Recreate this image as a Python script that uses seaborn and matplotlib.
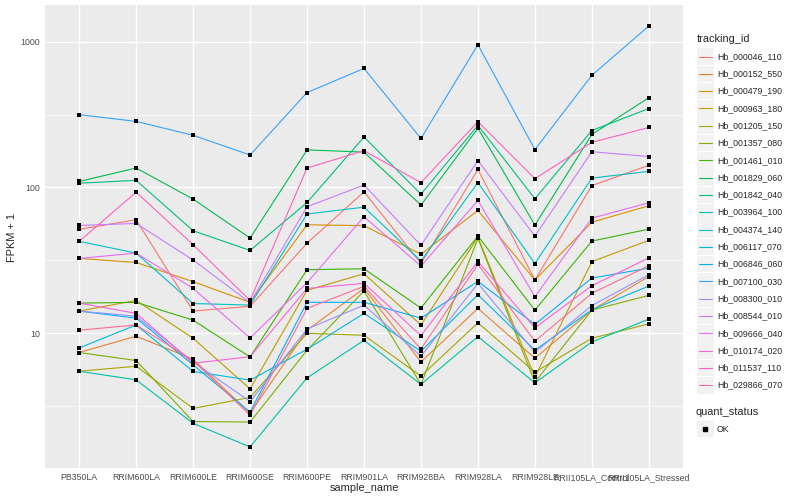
import matplotlib
matplotlib.use("Agg")
import matplotlib.pyplot as plt
from matplotlib.patches import Rectangle
from matplotlib.lines import Line2D
from matplotlib.ticker import NullFormatter
import seaborn as sns
import pandas as pd
import numpy as np

samples = ["PB350LA", "RRIM600LA", "RRIM600LE", "RRIM600SE", "RRIM600PE",
           "RRIM901LA", "RRIM928BA", "RRIM928LA", "RRIM928LE",
           "RRII105LA_Control", "RRII105LA_Stressed"]

tracking_ids = ["Hb_000046_110", "Hb_000152_550", "Hb_000479_190", "Hb_000963_180",
                "Hb_001205_150", "Hb_001357_080", "Hb_001461_010", "Hb_001829_060",
                "Hb_001842_040", "Hb_003964_100", "Hb_004374_140", "Hb_006117_070",
                "Hb_006846_060", "Hb_007100_030", "Hb_008300_010", "Hb_008544_010",
                "Hb_009666_040", "Hb_010174_020", "Hb_011537_110", "Hb_029866_070"]

# FPKM + 1 per gene, in sample order
hb_000046_110 = [51.6, 60.1, 14.2, 15.3, 41.5, 93.4, 30.1, 133, 23.2, 103, 142]
hb_000152_550 = [7.38, 9.54, 6.64, 2.83, 10.5, 20.3, 6.36, 14.8, 6.74, 14.4, 24.5]
hb_000479_190 = [32.6, 30.6, 22.6, 16.3, 55.5, 54.7, 34.9, 69.6, 23.2, 57.8, 74.9]
hb_000963_180 = [14.2, 16.8, 9.24, 4.15, 19.7, 25.6, 11.4, 45.5, 5.00, 31.0, 43.4]
hb_001205_150 = [5.49, 5.94, 3.05, 3.63, 10.0, 9.69, 5.08, 11.8, 5.41, 9.24, 11.6]
hb_001357_080 = [7.38, 6.50, 2.48, 2.46, 7.65, 19.5, 4.46, 44.7, 4.62, 14.4, 18.2]
hb_001461_010 = [16.1, 16.3, 12.3, 6.88, 27.3, 27.7, 14.9, 46.4, 14.4, 42.9, 51.8]
hb_001829_060 = [110, 136, 83.2, 45.0, 181, 175, 75.7, 255, 55.2, 231, 413]
hb_001842_040 = [107, 112, 50.5, 37.0, 78.9, 222, 90.0, 267, 83.7, 246, 348]
hb_003964_100 = [5.49, 4.79, 2.41, 1.66, 4.94, 8.95, 4.46, 9.49, 4.57, 8.72, 12.5]
hb_004374_140 = [42.7, 35.5, 16.0, 15.6, 65.8, 73.3, 31.3, 108, 30.1, 116, 129]
hb_006117_070 = [7.93, 11.4, 5.47, 4.77, 7.77, 13.7, 7.53, 18.4, 7.65, 14.5, 21.1]
hb_006846_060 = [14.2, 12.7, 6.07, 2.88, 16.3, 16.3, 12.7, 22.7, 11.5, 23.9, 28.0]
hb_007100_030 = [316, 284, 228, 167, 448, 656, 217, 953, 182, 588, 1281]
hb_008300_010 = [14.2, 13.1, 6.36, 3.40, 10.7, 15.6, 6.96, 22.0, 7.41, 15.5, 25.2]
hb_008544_010 = [54.9, 56.7, 31.8, 16.2, 73.8, 104, 40.1, 153, 46.4, 176, 163]
hb_009666_040 = [32.6, 35.5, 20.3, 9.29, 22.2, 63.0, 28.9, 81.5, 17.8, 61.6, 78.6]
hb_010174_020 = [16.1, 13.7, 6.23, 6.90, 20.3, 22.0, 9.64, 31.1, 10.9, 21.2, 32.9]
hb_011537_110 = [42.7, 92.9, 40.5, 16.8, 136, 179, 108, 283, 115, 204, 258]
hb_029866_070 = [10.5, 11.4, 6.50, 2.74, 14.8, 21.0, 7.80, 29.7, 8.82, 18.8, 29.1]

series = [hb_000046_110, hb_000152_550, hb_000479_190, hb_000963_180, hb_001205_150,
          hb_001357_080, hb_001461_010, hb_001829_060, hb_001842_040, hb_003964_100,
          hb_004374_140, hb_006117_070, hb_006846_060, hb_007100_030, hb_008300_010,
          hb_008544_010, hb_009666_040, hb_010174_020, hb_011537_110, hb_029866_070]

# ggplot2 default hue palette for 20 levels
gg_colors = ["#F8766D", "#EA8331", "#D89000", "#C09B00", "#A3A500", "#7CAE00",
             "#39B600", "#00BB4E", "#00BF7D", "#00C1A3", "#00BFC4", "#00BAE0",
             "#00B0F6", "#35A2FF", "#9590FF", "#C77CFF", "#E76BF3", "#FA62DB",
             "#FF62BC", "#FF6C91"]

rows = []
for tid, vals in zip(tracking_ids, series):
    for s, v in zip(samples, vals):
        rows.append({"tracking_id": tid, "sample_name": s, "fpkm1": v,
                     "quant_status": "OK"})
df = pd.DataFrame(rows)

sns.set_style("darkgrid", {"axes.facecolor": "#EBEBEB", "grid.color": "white"})
plt.rcParams["font.family"] = ["Liberation Sans", "DejaVu Sans"]

W, H = 800, 500
fig = plt.figure(figsize=(8, 5), dpi=100)
ax = fig.add_axes([45 / W, 1 - 468 / H, (683 - 45) / W, (468 - 5) / H])


def px(x, y):
    return x / W, 1 - y / H


sns.lineplot(data=df, x="sample_name", y="fpkm1", hue="tracking_id",
             hue_order=tracking_ids, palette=gg_colors, estimator=None,
             sort=False, linewidth=0.8, legend=False, ax=ax)
sns.scatterplot(data=df, x="sample_name", y="fpkm1", color="black", marker="s",
                s=9, linewidth=0, legend=False, ax=ax, zorder=3)

ax.set_yscale("log")
lo = np.log10(df.fpkm1.min())
hi = np.log10(df.fpkm1.max())
pad = 0.05 * (hi - lo)
ax.set_ylim(10 ** (lo - pad), 10 ** (hi + pad))
ax.set_xlim(-0.6, len(samples) - 0.4)

ax.set_yticks([10, 100, 1000])
ax.set_yticklabels(["10", "100", "1000"])
ax.set_yticks([10 ** 0.5, 10 ** 1.5, 10 ** 2.5], minor=True)
ax.yaxis.set_minor_formatter(NullFormatter())
ax.grid(which="major", color="white", linewidth=1.0)
ax.grid(which="minor", axis="y", color="white", linewidth=0.5)
ax.tick_params(which="major", length=2, width=0.7, color="#333333",
               labelsize=6.3, labelcolor="#4D4D4D", pad=1.5)
ax.tick_params(which="minor", length=0)
for sp in ax.spines.values():
    sp.set_visible(False)
ax.set_xlabel("")
ax.set_ylabel("")

fig.text(*px(364, 488), "sample_name", fontsize=7.9, ha="center", va="center")
fig.text(*px(12, 237), "FPKM + 1", fontsize=7.9, ha="center", va="center",
         rotation=90)

# legend: tracking_id
fig.text(*px(697, 39), "tracking_id", fontsize=7.9, ha="left", va="center")
for i, (tid, col) in enumerate(zip(tracking_ids, gg_colors)):
    yc = 56.5 + 17.3 * i
    fig.add_artist(Rectangle(px(697, yc + 8.3), 16.6 / W, 16.6 / H,
                             facecolor="#F2F2F2", edgecolor="none",
                             transform=fig.transFigure))
    fig.add_artist(Line2D([698.5 / W, 712 / W], [1 - yc / H] * 2, color=col,
                          linewidth=0.8, transform=fig.transFigure))
    fig.text(*px(717, yc), tid, fontsize=6.3, ha="left", va="center")

# legend: quant_status
fig.text(*px(696, 412), "quant_status", fontsize=7.9, ha="left", va="center")
fig.add_artist(Rectangle(px(697, 437.3), 16.6 / W, 16.6 / H,
                         facecolor="#F2F2F2", edgecolor="none",
                         transform=fig.transFigure))
fig.add_artist(Line2D([705.3 / W], [1 - 429 / H], marker="s", markersize=2.8,
                      color="black", linestyle="none", transform=fig.transFigure))
fig.text(*px(717, 429), "OK", fontsize=6.3, ha="left", va="center")

fig.savefig("out.png", dpi=100)
